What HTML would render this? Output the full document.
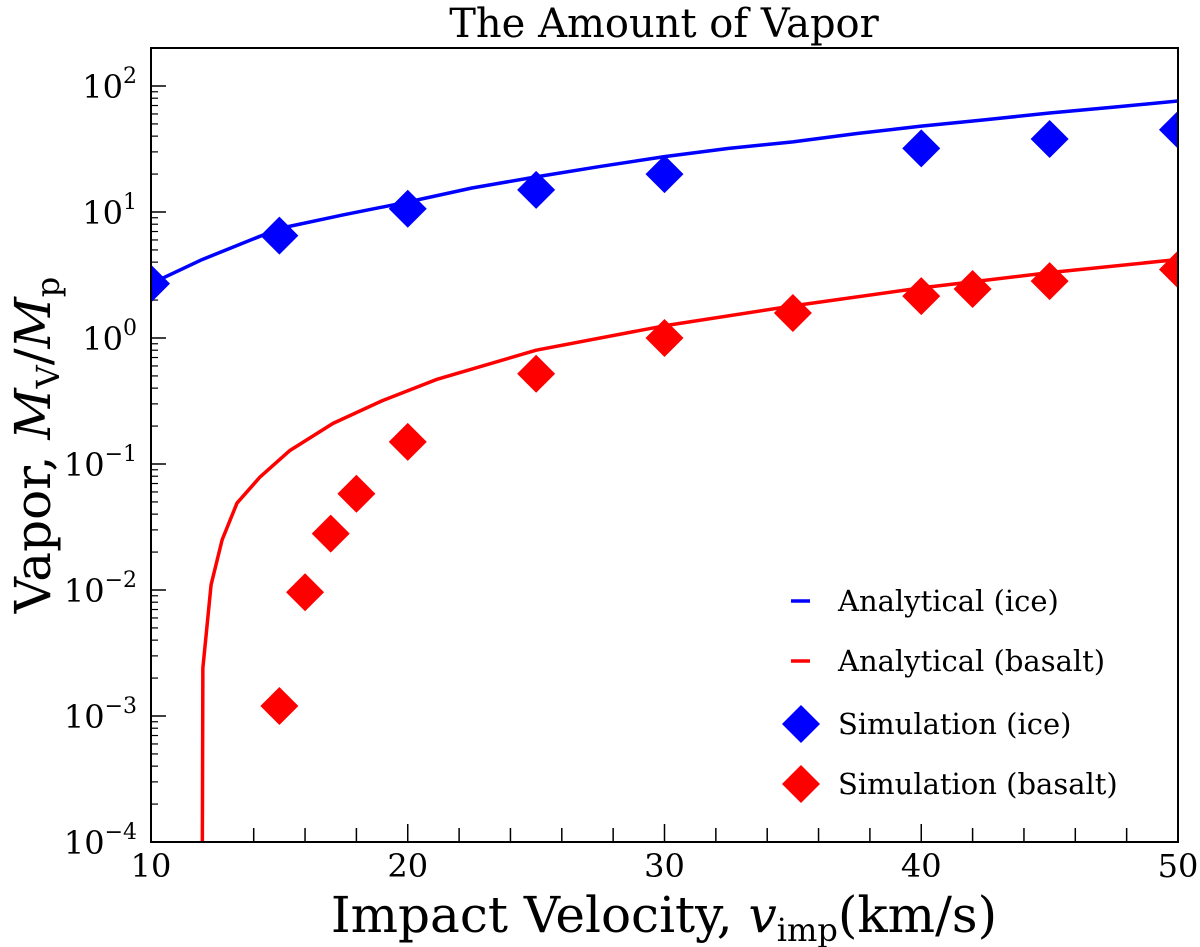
<!DOCTYPE html>
<html><head><meta charset="utf-8"><style>
body{margin:0;background:#fff}
svg{display:block;font-family:"DejaVu Serif","Liberation Serif",serif}
</style></head><body>
<svg id="chart" width="1200" height="947">
<text x="664" y="37" font-size="40" text-anchor="middle">The Amount of Vapor</text>
<g id="plot"></g>
<text x="664" y="932" font-size="50" text-anchor="middle">Impact Velocity, <tspan font-style="italic">v</tspan><tspan font-size="32" dy="9">imp</tspan><tspan dy="-9">(km/s)</tspan></text>
<text transform="translate(50,445) rotate(-90)" font-size="50" text-anchor="middle">Vapor, <tspan font-style="italic">M</tspan><tspan font-size="32" dy="9">V</tspan><tspan dy="-9">/</tspan><tspan font-style="italic">M</tspan><tspan font-size="32" dy="9">p</tspan></text>
</svg>
<script>
const iceSimX=[10,15,20,25,30,40,45,50];
const iceSimY=[2.7,6.5,10.6,15,20,32,38,45];
const basSimX=[15,16,17,18,20,25,30,35,40,42,45,50];
const basSimY=[0.0012,0.0096,0.028,0.058,0.15,0.52,1.0,1.58,2.15,2.45,2.83,3.5];
const iceAnX=[10,12,15,17.5,20,22.5,25,27.5,30,32.5,35,37.5,40,42.5,45,47.5,50];
const iceAnY=[2.7,4.2,7.4,9.5,12,15.5,19,23,27.5,32,36,42,48,54,61,68,76];
const basAnX=[12,12.02,12.34,12.77,13.35,14.25,15.41,17.09,19.04,21.14,25,30,35,40,45,50];
const basAnY=[0.0001,0.0024,0.011,0.025,0.049,0.079,0.128,0.21,0.32,0.47,0.8,1.25,1.8,2.5,3.3,4.2];
const xTicks=[10,20,30,40,50];
const yTicks=[-4,-3,-2,-1,0,1,2];
const L=151,R=1178,T=48,B=842;
const xs=v=>L+(v-10)*(R-L)/40;
const ys=v=>B-(Math.log10(v)+4)*126;
const NS="http://www.w3.org/2000/svg";
const g=document.getElementById('plot');
function mk(t,a,p){const e=document.createElementNS(NS,t);for(const k in a)e.setAttribute(k,a[k]);(p||g).appendChild(e);return e;}
const clip=mk('clipPath',{id:'cp'});mk('rect',{x:L,y:T,width:R-L,height:B-T},clip);
for(let v=12;v<50;v+=2){const len=(v%10==0)?18:14;const t=mk('line',{x1:xs(v),x2:xs(v),y1:B,y2:B-len,stroke:'#000','stroke-width':1.5});

}
xTicks.forEach(v=>{const t=mk('text',{x:xs(v),y:B+35,'font-size':32,'text-anchor':'middle'});t.textContent=v;

});
yTicks.forEach(p=>{const y=ys(Math.pow(10,p));
const t=mk('line',{x1:L,x2:L+15,y1:y,y2:y,stroke:'#000','stroke-width':1.5});


if(p<2)for(let m=2;m<10;m++){const yy=ys(m*Math.pow(10,p));const mt=mk('line',{x1:L,x2:L+7,y1:yy,y2:yy,stroke:'#000','stroke-width':1.2});

}
const tx=mk('text',{x:L-14,y:y+12,'font-size':32,'text-anchor':'end'});
tx.innerHTML='10<tspan font-size="22" dy="-15">'+(p<0?'\u2212'+(-p):p)+'</tspan>';

});
const pg=mk('g',{'clip-path':'url(#cp)'});
function line(X,Y,c,n){const d=X.map((x,i)=>(i?'L':'M')+xs(x)+','+ys(Y[i])).join('');
const p=mk('path',{d:d,fill:'none',stroke:c,'stroke-width':3.5,'stroke-linejoin':'round'},pg);

}
function dia(x,y,c,n,par){const s=19;const p=mk('polygon',{points:`${x},${y-s} ${x+s},${y} ${x},${y+s} ${x-s},${y}`,fill:c},par);

}
line(iceAnX,iceAnY,'#0000ff','analytical-ice-line');
line(basAnX,basAnY,'#ff0000','analytical-basalt-line');
iceSimX.forEach((x,i)=>dia(xs(x),ys(iceSimY[i]),'#0000ff','ice-sim-point',pg));
basSimX.forEach((x,i)=>dia(xs(x),ys(basSimY[i]),'#ff0000','basalt-sim-point',pg));
const fr=mk('rect',{x:L,y:T,width:R-L,height:B-T,fill:'none',stroke:'#000','stroke-width':2});


const leg=[['Analytical (ice)','#0000ff','line',601],['Analytical (basalt)','#ff0000','line',661],['Simulation (ice)','#0000ff','dia',724],['Simulation (basalt)','#ff0000','dia',784]];
leg.forEach(e=>{const lg=mk('g',{});


if(e[2]=='line')mk('line',{x1:791,x2:810,y1:e[3],y2:e[3],stroke:e[1],'stroke-width':3.5},lg);
else dia(801,e[3],e[1],'legend-marker',lg);
const t=mk('text',{x:838,y:e[3]+10,'font-size':29},lg);t.textContent=e[0];});
</script>
</body></html>
